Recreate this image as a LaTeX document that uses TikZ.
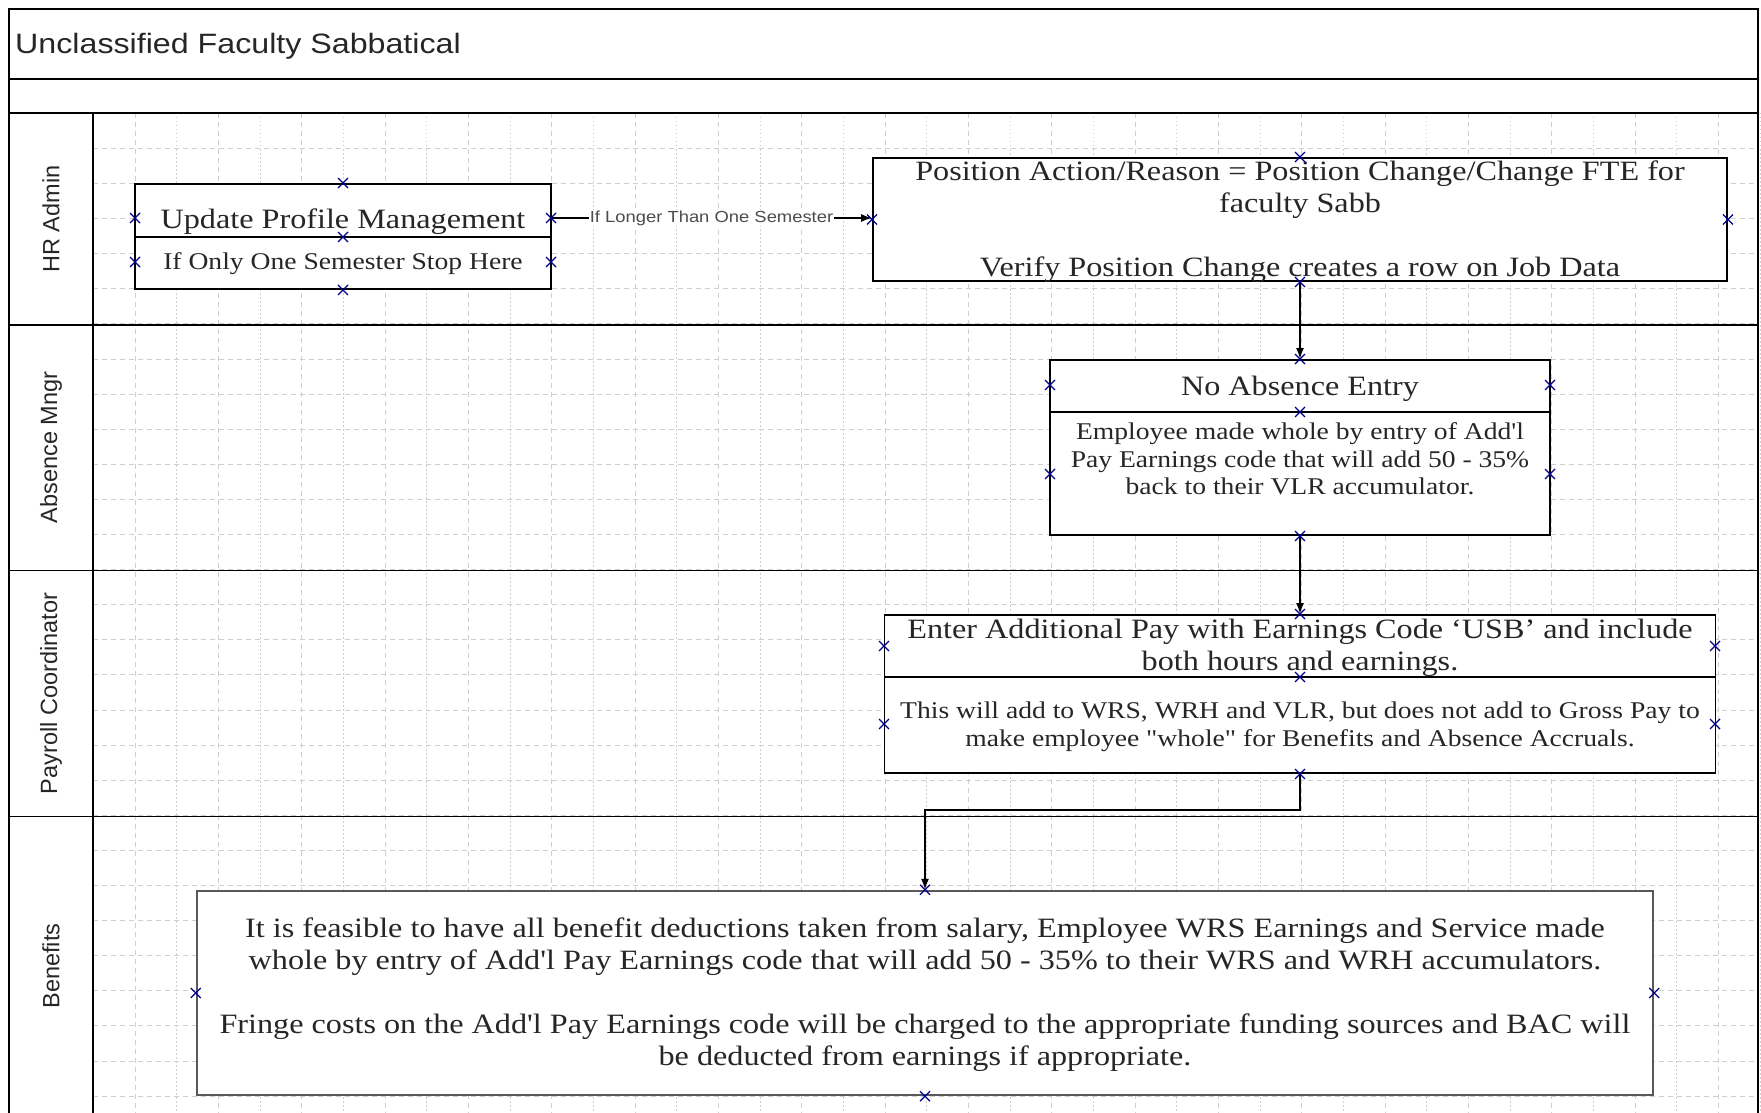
\documentclass[tikz,border=0pt]{standalone}
\usepackage{fontspec}
\setmainfont{Liberation Serif}[FakeStretch=1.15,Ligatures=TeXOff]
\setsansfont{Liberation Sans}[FakeStretch=1.15,Ligatures=TeXOff]
\newfontfamily\lanefont{Liberation Sans}
\usetikzlibrary{arrows.meta, positioning}

\tikzset{
  lane/.style={line width=1.9pt},
  gridmaj/.style={gray!38, line width=0.8pt, dash pattern=on 5pt off 4pt},
  gridmin/.style={gray!38, line width=0.8pt, dash pattern=on 1.5pt off 2.5pt},
  box/.style={draw, line width=1.9pt, fill=white, inner sep=0pt},
  head/.style={font=\fontsize{28}{32}\selectfont, text=black!85, align=center},
  body/.style={font=\fontsize{24}{27.6}\selectfont, text=black!85, align=center},
  lanelbl/.style={rotate=90, font=\lanefont\fontsize{23.5}{26}\selectfont, text=black!85},
  conn/.style={line width=1.8pt, -{Latex[length=11pt,width=8pt]}},
  cp/.style={blue!55!black, line width=1.2pt},
}

\begin{document}
\begin{tikzpicture}[x=1pt,y=-1pt]
\useasboundingbox (0,0) rectangle (1761,1113);
\clip (0,0) rectangle (1761,1113);
% grid
\foreach \i in {0,...,19} {
    \draw[gridmaj] ({135+83.33*\i},113) -- ++(0,1000);
    \draw[gridmin] ({176.67+83.33*\i},113) -- ++(0,1000);
}
\foreach \j in {1,...,28} {
    \draw[gridmaj] (93,{113.2+35.1*\j}) -- (1758,{113.2+35.1*\j});
}
% pool and lanes
\draw[lane] (9,9) rectangle (1758,1115);
\draw[lane] (9,79) -- (1758,79);
\draw[lane] (9,113) -- (1758,113);
\draw[lane] (93,113) -- (93,1115);
\foreach \y in {324.6,570.5,816.5} {
    \draw[lane] (9,\y) -- (1758,\y);
}
\node[anchor=west, inner sep=0pt, font=\sffamily\fontsize{28}{31}\selectfont, text=black!85] (title) at (15,46) {Unclassified Faculty Sabbatical};
\node[lanelbl] (hr) at (51,219) {HR Admin};
\node[lanelbl] (absm) at (51,447.5) {Absence Mngr};
\node[lanelbl] (payc) at (51,693.5) {Payroll Coordinator};
\node[lanelbl] (bens) at (51,966) {Benefits};

% boxes
\node[box, minimum width=416pt, minimum height=105pt] (upd) at (343,236.5) {};
\draw[lane] (135,237) -- (551,237);
\node[head] (updh) at (343,221.5) {Update Profile Management};
\node[body] (updb) at (343,264) {If Only One Semester Stop Here};
\coordinate (updr) at (551,218);

\node[box, minimum width=854pt, minimum height=123pt] (pos) at (1300,219.5) {};
\node[head] (posh) at (1300,222) {Position Action/Reason = Position Change/Change FTE for\\ faculty Sabb\\[32pt] Verify Position Change creates a row on Job Data};

\node[box, minimum width=500pt, minimum height=175pt] (abs) at (1300,447.5) {};
\draw[lane] (1050,412) -- (1550,412);
\node[head] (absh) at (1300,388.5) {No Absence Entry};
\node[body] (absb) at (1300,459) {Employee made whole by entry of Add'l\\ Pay Earnings code that will add 50 - 35\%\\ back to their VLR accumulator.};

\node[box, minimum width=831pt, minimum height=158pt] (pay) at (1300,694) {};
\draw[lane] (884,677) -- (1715,677);
\node[head] (payh) at (1300,647.5) {Enter Additional Pay with Earnings Code ‘USB’ and include\\ both hours and earnings.};
\node[body] (payb) at (1300,727) {This will add to WRS, WRH and VLR, but does not add to Gross Pay to\\ make employee "whole" for Benefits and Absence Accruals.};

\node[box, draw=black!65, line width=2.4pt, minimum width=1456pt, minimum height=204pt] (ben) at (925,993) {};
\node[head] (benh) at (925,995) {It is feasible to have all benefit deductions taken from salary, Employee WRS Earnings and Service made\\ whole by entry of Add'l Pay Earnings code that will add 50 - 35\% to their WRS and WRH accumulators.\\[32pt] Fringe costs on the Add'l Pay Earnings code will be charged to the appropriate funding sources and BAC will\\ be deducted from earnings if appropriate.};

% connectors
\draw[conn] (updr) -- node[fill=white, inner sep=1pt, font=\sffamily\fontsize{16}{18}\selectfont, text=black!70] (lng) {If Longer Than One Semester} (updr -| pos.west);
\draw[conn] (pos.south) -- (abs.north);
\draw[conn] (abs.south) -- (pay.north);
\draw[conn] (pay.south) -- ++(0,36) -| (ben.north);

% connection points
\foreach \p in {(upd.north),(upd.south),(343,237),(135,218),(135,262),(551,218),(551,262),
    (pos.north),(pos.south),(pos.west),(pos.east),
    (abs.north),(abs.south),(1300,412),(1050,385),(1050,474),(1550,385),(1550,474),
    (pay.north),(pay.south),(1300,677),(884,646),(884,724),(1715,646),(1715,724),
    (ben.north),(ben.south),(ben.west),(ben.east)} {
    \draw[cp] \p ++(-5,-5) -- ++(10,10) \p ++(-5,5) -- ++(10,-10);
}
\end{tikzpicture}
\end{document}
